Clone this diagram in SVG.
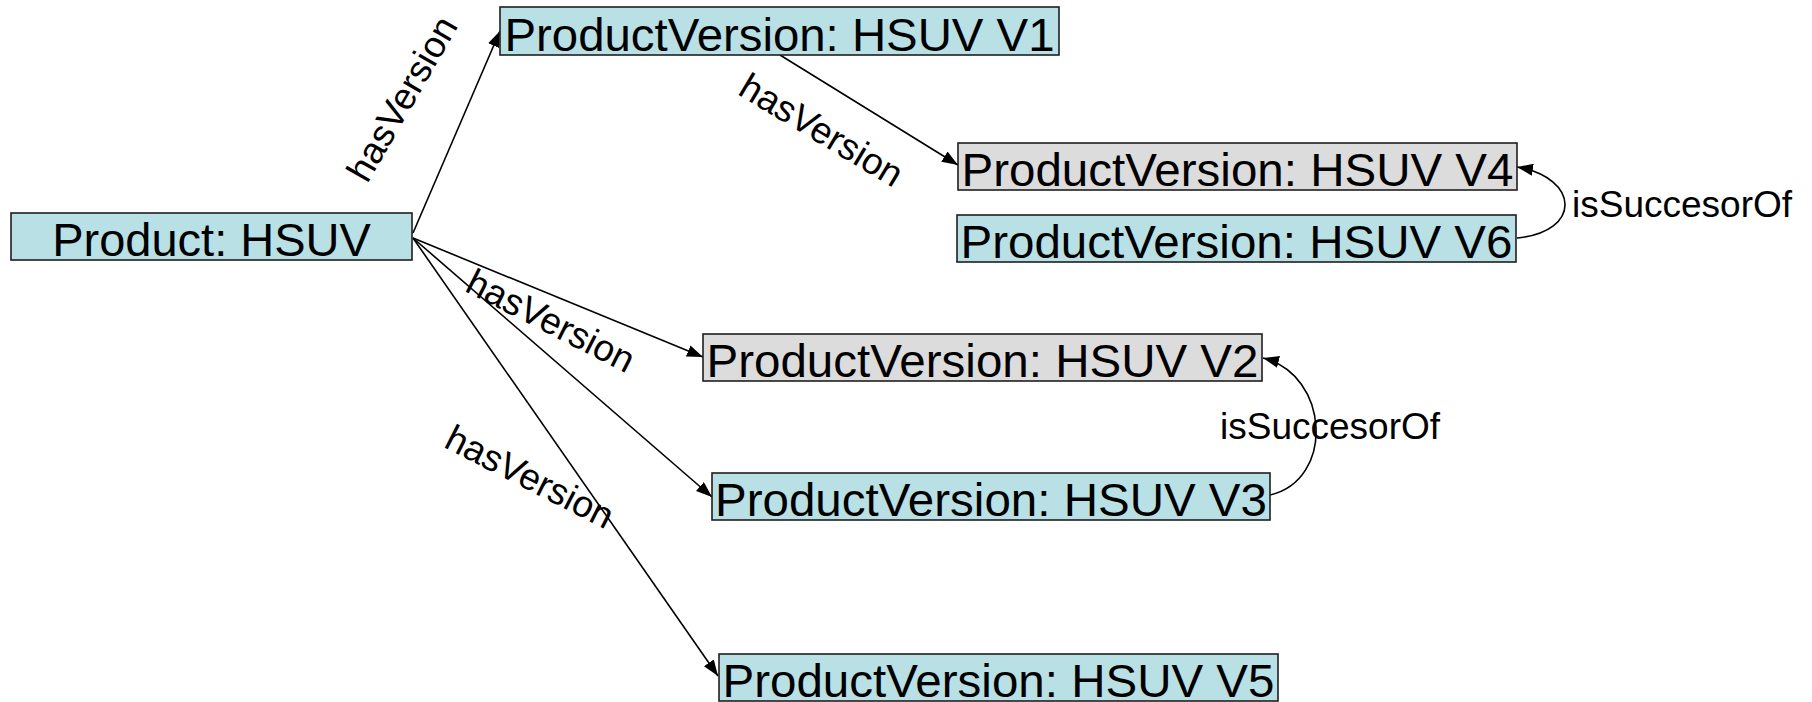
<svg xmlns="http://www.w3.org/2000/svg" width="1812" height="702" viewBox="0 0 1812 702">
<style>
.box{stroke:#1e1e1e;stroke-width:1.6}
.teal{fill:#B9E0E4}
.gray{fill:#DCDCDC}
.nt{font-family:"Liberation Sans",Arial,sans-serif;font-size:47px;fill:#000;text-anchor:middle}
.lb{font-family:"Liberation Sans",Arial,sans-serif;font-size:37px;fill:#000}
.edge{fill:none;stroke:#000;stroke-width:1.6}
</style>
<defs>
<marker id="arr" viewBox="0 0 16 12" refX="16" refY="6" markerWidth="16" markerHeight="12" markerUnits="userSpaceOnUse" orient="auto">
<path d="M0,0 L16,6 L0,12 z" fill="#000"/>
</marker>
</defs>
<rect width="1812" height="702" fill="#fff"/>
<g id="connectors">
<line class="edge" x1="413" y1="233" x2="500" y2="31" marker-end="url(#arr)"/>
<line class="edge" x1="780" y1="55" x2="958" y2="165" marker-end="url(#arr)"/>
<line class="edge" x1="413" y1="238" x2="703" y2="357" marker-end="url(#arr)"/>
<line class="edge" x1="413" y1="238" x2="712" y2="497" marker-end="url(#arr)"/>
<line class="edge" x1="413" y1="238" x2="718" y2="676" marker-end="url(#arr)"/>
<path class="edge" d="M1517,238 C1582,232 1580,178 1517,167" marker-end="url(#arr)"/>
<path class="edge" d="M1270,495 C1335,480 1330,375 1263,358" marker-end="url(#arr)"/>
<text class="lb" text-anchor="middle" transform="translate(413,105) rotate(-60)">hasVersion</text>
<text class="lb" text-anchor="middle" transform="translate(815,141) rotate(31)">hasVersion</text>
<text class="lb" text-anchor="middle" transform="translate(545,332) rotate(27)">hasVersion</text>
<text class="lb" text-anchor="middle" transform="translate(524,488) rotate(27)">hasVersion</text>
<text class="lb" x="1572" y="217">isSuccesorOf</text>
<text class="lb" x="1220" y="439">isSuccesorOf</text>
</g>
<g id="product">
<rect class="box teal" x="11" y="213" width="401" height="47"/>
<text class="nt" x="211.5" y="255.5">Product: HSUV</text>
</g>
<g id="v1">
<rect class="box teal" x="500" y="7" width="559" height="48"/>
<text class="nt" x="779.5" y="50.5" textLength="550" lengthAdjust="spacingAndGlyphs">ProductVersion: HSUV V1</text>
</g>
<g id="v4">
<rect class="box gray" x="958" y="143" width="559" height="47"/>
<text class="nt" x="1237.5" y="185.5" textLength="552" lengthAdjust="spacingAndGlyphs">ProductVersion: HSUV V4</text>
</g>
<g id="v6">
<rect class="box teal" x="957" y="215" width="559" height="47"/>
<text class="nt" x="1236.5" y="257.5" textLength="552" lengthAdjust="spacingAndGlyphs">ProductVersion: HSUV V6</text>
</g>
<g id="v2">
<rect class="box gray" x="703" y="334" width="559" height="47"/>
<text class="nt" x="982.5" y="376.5" textLength="552" lengthAdjust="spacingAndGlyphs">ProductVersion: HSUV V2</text>
</g>
<g id="v3">
<rect class="box teal" x="712" y="473" width="558" height="47"/>
<text class="nt" x="991" y="515.5" textLength="552" lengthAdjust="spacingAndGlyphs">ProductVersion: HSUV V3</text>
</g>
<g id="v5">
<rect class="box teal" x="719" y="654" width="559" height="47"/>
<text class="nt" x="998.5" y="696.5" textLength="552" lengthAdjust="spacingAndGlyphs">ProductVersion: HSUV V5</text>
</g>
</svg>
